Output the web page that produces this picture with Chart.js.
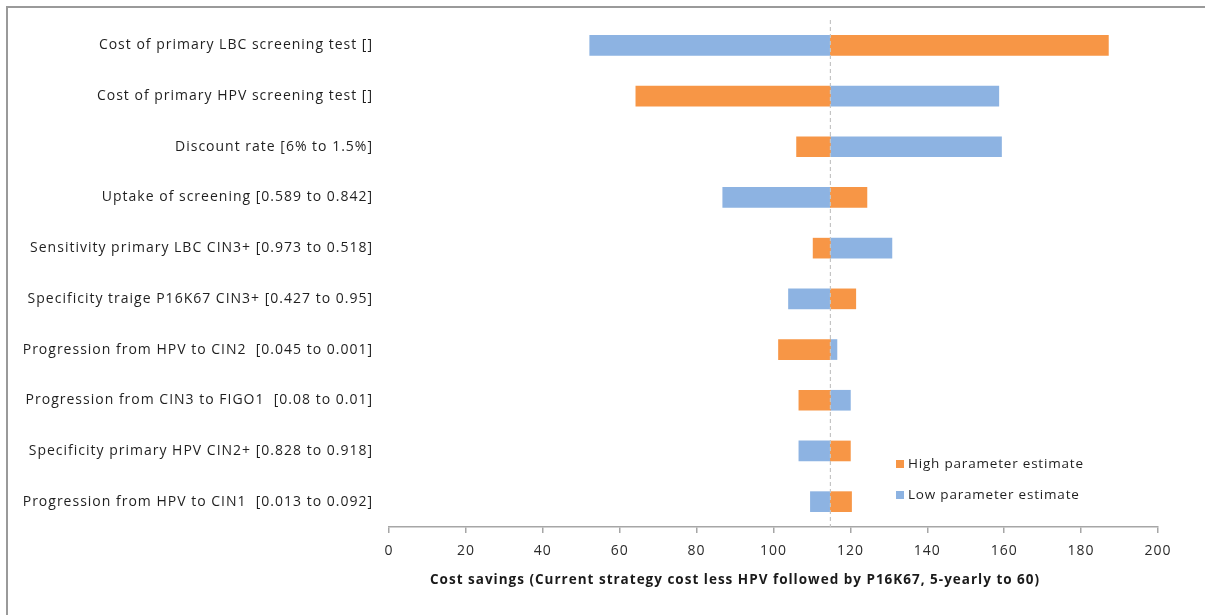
<!DOCTYPE HTML>
<html>
<head>
    <meta name="viewport" content="width=device-width, initial-scale=1">
    <script src="https://cdn.jsdelivr.net/npm/chart.js"></script>
    <style>
        body {
            margin: 0;
            background: white;
            font-family: "Open Sans", Arial, sans-serif;
        }
        .frame {
            position: absolute;
            left: 6px;
            top: 6px;
            width: 1205px;
            height: 615px;
            border-left: 2px solid #9a9a9a;
            border-top: 2px solid #9a9a9a;
        }
        .chart-container {
            position: absolute;
            left: 0;
            top: 0;
            width: 1205px;
            height: 615px;
        }
    </style>
</head>
<body>
    <div class="frame"></div>
    <div class="chart-container">
        <canvas id="tornado"></canvas>
    </div>

    <script>
        // parameters (top to bottom)
        const parameters = [
            'Cost of primary LBC screening test []',
            'Cost of primary HPV screening test []',
            'Discount rate [6% to 1.5%]',
            'Uptake of screening [0.589 to 0.842]',
            'Sensitivity primary LBC CIN3+ [0.973 to 0.518]',
            'Specificity traige P16K67 CIN3+ [0.427 to 0.95]',
            'Progression from HPV to CIN2  [0.045 to 0.001]',
            'Progression from CIN3 to FIGO1  [0.08 to 0.01]',
            'Specificity primary HPV CIN2+ [0.828 to 0.918]',
            'Progression from HPV to CIN1  [0.013 to 0.092]'
        ];
        const baseCase = 114.8;
        const highEstimate = [187.1, 64.2, 106.0, 124.3, 110.3, 121.4, 101.3, 106.6, 120.0, 120.3];
        const lowEstimate = [52.2, 158.6, 159.3, 86.8, 130.8, 103.9, 116.5, 120.0, 106.6, 109.6];
        const xTicks = [0, 20, 40, 60, 80, 100, 120, 140, 160, 180, 200];
        const xTitle = 'Cost savings (Current strategy cost less HPV followed by P16K67, 5-yearly to 60)';

        const orange = '#F79646';
        const blue = '#8DB3E2';
        const font = '"Open Sans", Arial, sans-serif';

        // the source text is widely spaced
        const spacing = {
            id: 'spacing',
            beforeLayout(chart) { chart.ctx.letterSpacing = '1px'; },
            beforeDraw(chart) { chart.ctx.letterSpacing = '1px'; }
        };

        // dashed line at base case + legend + axis title
        const extras = {
            id: 'extras',
            afterDatasetsDraw(chart) {
                const ctx = chart.ctx;
                const x = chart.scales.x;
                const area = chart.chartArea;
                const bx = x.getPixelForValue(baseCase);
                ctx.save();
                ctx.strokeStyle = '#c4c4c4';
                ctx.lineWidth = 1.2;
                ctx.setLineDash([4, 3]);
                ctx.beginPath();
                ctx.moveTo(bx, area.top);
                ctx.lineTo(bx, area.bottom);
                ctx.stroke();
                ctx.setLineDash([]);

                // legend
                const items = [['High parameter estimate', orange], ['Low parameter estimate', blue]];
                ctx.font = '13.5px ' + font;
                ctx.letterSpacing = '0.8px';
                ctx.textBaseline = 'middle';
                ctx.textAlign = 'left';
                items.forEach((it, i) => {
                    const ly = 464 + i * 31;
                    ctx.fillStyle = it[1];
                    ctx.fillRect(896, ly - 4, 8, 8);
                    ctx.fillStyle = '#1f1f1f';
                    ctx.fillText(it[0], 908, ly);
                });

                // axis title
                ctx.font = 'bold 13.5px ' + font;
                ctx.letterSpacing = '1px';
                ctx.textAlign = 'center';
                ctx.fillStyle = '#1a1a1a';
                ctx.fillText(xTitle, x.getPixelForValue(90), 580);
                ctx.restore();
            }
        };

        const ctx = document.getElementById('tornado').getContext('2d');
        new Chart(ctx, {
            type: 'bar',
            data: {
                labels: parameters,
                datasets: [{
                    label: 'High parameter estimate',
                    data: highEstimate.map(v => [baseCase, v]),
                    backgroundColor: orange,
                    grouped: false,
                    barThickness: 20
                }, {
                    label: 'Low parameter estimate',
                    data: lowEstimate.map(v => [baseCase, v]),
                    backgroundColor: blue,
                    grouped: false,
                    barThickness: 20
                }]
            },
            options: {
                indexAxis: 'y',
                responsive: true,
                maintainAspectRatio: false,
                animation: false,
                layout: { padding: { left: 8, top: 20, right: 47, bottom: 0 } },
                plugins: {
                    legend: { display: false },
                    tooltip: { enabled: false }
                },
                scales: {
                    x: {
                        min: 0,
                        max: 200,
                        afterBuildTicks: s => { s.ticks = xTicks.map(v => ({ value: v })); },
                        afterFit: s => { s.height = 88; },
                        grid: {
                            drawOnChartArea: false,
                            drawTicks: true,
                            tickLength: 6,
                            color: '#a6a6a6',
                            lineWidth: 1.5
                        },
                        border: { display: true, color: '#a6a6a6', width: 1.5 },
                        ticks: {
                            padding: 10,
                            color: '#2b2b2b',
                            font: { size: 14, family: font }
                        }
                    },
                    y: {
                        afterFit: s => { s.width = 381; },
                        grid: { display: false },
                        border: { display: false },
                        ticks: {
                            padding: 8,
                            color: '#1f1f1f',
                            font: { size: 14, family: font }
                        }
                    }
                }
            },
            plugins: [spacing, extras]
        });
    </script>
</body>
</html>
